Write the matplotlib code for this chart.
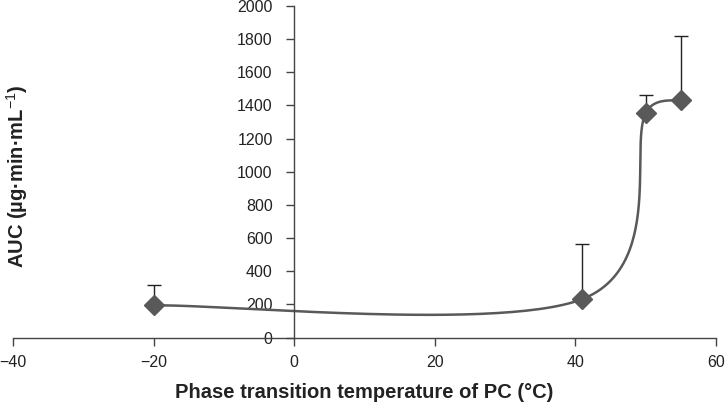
import numpy as np
import matplotlib
matplotlib.use('Agg')
import matplotlib.pyplot as plt

plt.rcParams['font.family'] = ['Liberation Sans', 'DejaVu Sans']
plt.rcParams['mathtext.fontset'] = 'custom'
plt.rcParams['mathtext.rm'] = 'Liberation Sans'
plt.rcParams['mathtext.bf'] = 'Liberation Sans:bold'

# temperatura de transição (°C), AUC media e desvio (so para cima)
temperaturas = [-20, 41, 50, 55]
auc = [194, 232, 1354, 1435]
desvio = [122, 333, 110, 382]

x_ticks = [-40, -20, 0, 20, 40, 60]
y_ticks = list(range(0, 2001, 200))

cor_linha = '#595959'


def curva_suave(pts, n=60):
    # bezier estilo excel (catmull-rom 1/6), pontos em coordenadas de tela
    pts = np.asarray(pts, float)
    ext = np.vstack([pts[0], pts, pts[-1]])
    saida = [pts[0]]
    t = np.linspace(0, 1, n)[1:, None]
    for i in range(len(pts) - 1):
        p0, p1, p2, p3 = ext[i], ext[i + 1], ext[i + 2], ext[i + 3]
        seg = np.linalg.norm(p2 - p1)
        d1 = (p2 - p0) / 6
        d2 = (p3 - p1) / 6
        # limita controle a metade do segmento
        for d in (d1, d2):
            L = np.linalg.norm(d)
            if L > 0.5 * seg:
                d *= 0.5 * seg / L
        c1 = p1 + d1
        c2 = p2 - d2
        b = ((1 - t) ** 3) * p1 + 3 * ((1 - t) ** 2) * t * c1 + 3 * (1 - t) * t ** 2 * c2 + t ** 3 * p2
        saida.extend(b)
    return np.array(saida)


fig = plt.figure(figsize=(7.25, 4.04), dpi=100)
ax = fig.add_axes([13 / 725, 1 - 337.5 / 404, 703 / 725, 331.5 / 404])
ax.set_xlim(-40, 60)
ax.set_ylim(0, 2000)

tela = ax.transData.transform(np.column_stack([temperaturas, auc]))
curva = ax.transData.inverted().transform(curva_suave(tela))
ax.plot(curva[:, 0], curva[:, 1], color=cor_linha, lw=1.8, zorder=2)

ax.errorbar(temperaturas, auc, yerr=[np.zeros(len(desvio)), desvio], fmt='none',
            ecolor='#222222', elinewidth=1.0, capsize=4.7, capthick=1.0, zorder=1)
ax.plot(temperaturas, auc, ls='none', marker='D', ms=10, color=cor_linha, zorder=3)

ax.spines['left'].set_position(('data', 0))
ax.spines['top'].set_visible(False)
ax.spines['right'].set_visible(False)
for s in ('left', 'bottom'):
    ax.spines[s].set_color('#444444')
    ax.spines[s].set_linewidth(1.0)

ax.set_xticks(x_ticks)
ax.set_yticks(y_ticks)
ax.set_xticklabels([str(v).replace('-', '\u2212') for v in x_ticks])
ax.tick_params(axis='both', direction='out', length=5.5, width=1.0, color='#444444',
               labelsize=11.5, labelcolor='#222222')
ax.tick_params(axis='y', pad=10)
ax.tick_params(axis='x', pad=7)

fig.text(17.5 / 725, 1 - 176 / 404, r'AUC (µg·min·mL$^{-1}$)', rotation=90,
         ha='center', va='center', fontsize=14.5, fontweight='bold', color='#222222')
fig.text(364.5 / 725, 1 - 392 / 404, 'Phase transition temperature of PC (°C)',
         ha='center', va='center', fontsize=14.5, fontweight='bold', color='#222222')

fig.savefig('out.png', dpi=100)
